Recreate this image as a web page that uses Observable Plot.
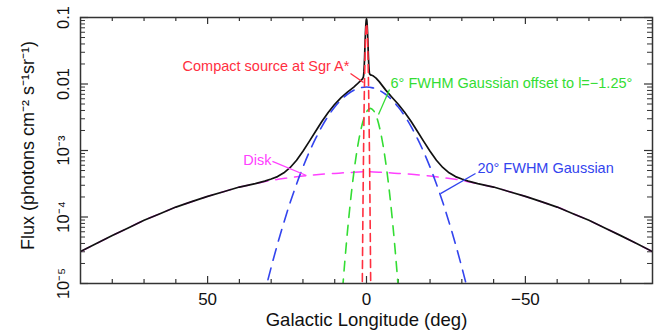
<!DOCTYPE html>
<html><head><meta charset="utf-8">
<script src="https://cdn.jsdelivr.net/npm/d3@7"></script>
<script src="https://cdn.jsdelivr.net/npm/@observablehq/plot@0.6"></script>
<style>body{margin:0;background:#fff}#chart{width:660px;height:331px}</style>
</head><body><div id="chart"></div>
<script>
// Total model (black)
const totalLon = [90,85,80,75,70,65,60,55,50,45,40,35,32,30,28,26,24,22,20,18,16,14,12,10,8,6,4,3,2,1.5,1.2,1.0,0.9,0.8,0.7,0.6,0.5,0.4,0.3,0.2,0.1,0,-0.1,-0.2,-0.3,-0.4,-0.5,-0.6,-0.7,-0.8,-0.9,-1.0,-1.2,-1.5,-2,-3,-4,-6,-8,-10,-12,-14,-16,-18,-20,-22,-24,-26,-28,-30,-32,-35,-40,-45,-50,-55,-60,-65,-70,-75,-80,-85,-90];
const totalFlux = [3.02e-5,3.98e-5,5.25e-5,6.84e-5,8.91e-5,1.12e-4,1.41e-4,1.70e-4,2.04e-4,2.40e-4,2.82e-4,3.18e-4,3.46e-4,3.73e-4,4.05e-4,4.62e-4,5.56e-4,7.15e-4,9.74e-4,1.373e-3,1.952e-3,2.75e-3,3.77e-3,4.95e-3,6.23e-3,7.54e-3,8.98e-3,9.92e-3,1.105e-2,1.167e-2,1.207e-2,1.273e-2,1.361e-2,1.546e-2,1.904e-2,2.532e-2,3.501e-2,4.832e-2,6.391e-2,7.90e-2,9.01e-2,9.43e-2,9.02e-2,7.93e-2,6.437e-2,4.892e-2,3.577e-2,2.621e-2,2.008e-2,1.663e-2,1.492e-2,1.416e-2,1.373e-2,1.362e-2,1.334e-2,1.228e-2,1.085e-2,8.16e-3,6.33e-3,4.96e-3,3.77e-3,2.75e-3,1.952e-3,1.373e-3,9.74e-4,7.15e-4,5.56e-4,4.62e-4,4.05e-4,3.73e-4,3.46e-4,3.18e-4,2.82e-4,2.40e-4,2.04e-4,1.70e-4,1.41e-4,1.12e-4,8.91e-5,6.84e-5,5.25e-5,3.98e-5,3.02e-5];
// Disk (magenta)
const diskLon = [90,85,80,75,70,65,60,55,50,45,40,35,30,25,20,15,10,5,0,-5,-10,-15,-20,-25,-30,-35,-40,-45,-50,-55,-60,-65,-70,-75,-80,-85,-90];
const diskFlux = [3.02e-5,3.98e-5,5.25e-5,6.84e-5,8.91e-5,1.12e-4,1.41e-4,1.70e-4,2.04e-4,2.40e-4,2.82e-4,3.16e-4,3.55e-4,3.85e-4,4.12e-4,4.37e-4,4.52e-4,4.68e-4,4.79e-4,4.68e-4,4.52e-4,4.37e-4,4.12e-4,3.85e-4,3.55e-4,3.16e-4,2.82e-4,2.40e-4,2.04e-4,1.70e-4,1.41e-4,1.12e-4,8.91e-5,6.84e-5,5.25e-5,3.98e-5,3.02e-5];
// 20 deg FWHM Gaussian (blue)
const wideLon = [34,32,30,28,26,24,22,20,18,16,14,12,10,8,6,4,2,0,-2,-4,-6,-8,-10,-12,-14,-16,-18,-20,-22,-24,-26,-28,-30,-32,-34];
const wideFlux = [2.97e-6,7.42e-6,1.75e-5,3.92e-5,8.28e-5,1.66e-4,3.14e-4,5.62e-4,9.51e-4,1.52e-3,2.31e-3,3.32e-3,4.50e-3,5.77e-3,7.01e-3,8.05e-3,8.75e-3,9.00e-3,8.75e-3,8.05e-3,7.01e-3,5.77e-3,4.50e-3,3.32e-3,2.31e-3,1.52e-3,9.51e-4,5.62e-4,3.14e-4,1.66e-4,8.28e-5,3.92e-5,1.75e-5,7.42e-6,2.97e-6];
// 6 deg FWHM Gaussian offset to l=-1.25 (green)
const offsetLon = [8.75,7.75,6.75,5.75,4.75,3.75,2.75,1.75,0.75,-0.25,-1.25,-2.25,-3.25,-4.25,-5.25,-6.25,-7.25,-8.25,-9.25,-10.25,-11.25];
const offsetFlux = [1.27e-6,5.93e-6,2.36e-5,8.00e-5,2.30e-4,5.63e-4,1.17e-3,2.07e-3,3.11e-3,3.96e-3,4.30e-3,3.96e-3,3.11e-3,2.07e-3,1.17e-3,5.63e-4,2.30e-4,8.00e-5,2.36e-5,5.93e-6,1.27e-6];
// Compact source at Sgr A* (red)
const compactLon = [1.5,1.4,1.3,1.2,1.1,1.0,0.9,0.8,0.7,0.6,0.5,0.4,0.3,0.2,0.1,0,-0.1,-0.2,-0.3,-0.4,-0.5,-0.6,-0.7,-0.8,-0.9,-1.0,-1.1,-1.2,-1.3,-1.4,-1.5];
const compactFlux = [7.2e-7,3.22e-6,1.30e-5,4.73e-5,1.55e-4,4.60e-4,1.23e-3,2.96e-3,6.43e-3,1.26e-2,2.22e-2,3.54e-2,5.09e-2,6.59e-2,7.69e-2,8.10e-2,7.69e-2,6.59e-2,5.09e-2,3.54e-2,2.22e-2,1.26e-2,6.43e-3,2.96e-3,1.23e-3,4.60e-4,1.55e-4,4.73e-5,1.30e-5,3.22e-6,7.2e-7];

const xTickValues = [50, 0, -50];
const xMinorTicks = [80,70,60,40,30,20,10,-10,-20,-30,-40,-60,-70,-80];
const yTickValues = [0.1, 0.01, 1e-3, 1e-4, 1e-5];
const yTickLabels = ["0.1", "0.01", "10⁻³", "10⁻⁴", "10⁻⁵"];

const zip = (xs, ys) => xs.map((x, i) => ({lon: x, flux: ys[i]}));
const total = zip(totalLon, totalFlux);
const disk = zip(diskLon, diskFlux);
const wide = zip(wideLon, wideFlux);
const offset = zip(offsetLon, offsetFlux);
const compact = zip(compactLon, compactFlux);
const yMinor = [];
for (const dec of [1e-5, 1e-4, 1e-3, 1e-2]) for (let k = 2; k <= 9; k++) yMinor.push(dec * k);

const FONT = "Liberation Sans, Arial, Helvetica, sans-serif";
const RED = "#ff2f3f", GREEN = "#33dd33", BLUE = "#3344ee", MAGENTA = "#ff40ff";
const FH = 266, FW = 572;

const chart = Plot.plot({
  width: 660, height: 331,
  marginLeft: 80, marginRight: 8, marginTop: 17, marginBottom: 48,
  style: {fontFamily: FONT, background: "#fff"},
  x: {domain: [90, -90]},
  y: {type: "log", domain: [1e-5, 0.1]},
  marks: [
    Plot.axisX({ticks: xTickValues, tickSize: 0, tickPadding: 9, fontSize: 17, fill: "#111",
      tickFormat: d => d < 0 ? "\u2212" + (-d) : String(d), label: null}),
    Plot.axisY({ticks: yTickValues, tickSize: 0, tickRotate: -90, tickPadding: 12, fontSize: 16.5, fill: "#111",
      tickFormat: d => yTickLabels[yTickValues.indexOf(d)], label: null}),
    Plot.text(["Galactic Longitude (deg)"], {frameAnchor: "bottom", textAnchor: "middle", dy: 37, fontSize: 18.5, fill: "#111", lineAnchor: "middle"}),
    Plot.text(["Flux (photons cm\u207B\u00B2 s\u207B\u00B9sr\u207B\u00B9)"], {frameAnchor: "left", textAnchor: "middle", dx: -52, dy: -5, rotate: -90, fontSize: 18, fill: "#111", lineAnchor: "middle"}),
    // inward ticks
    Plot.ruleX(xTickValues, {x: d => d, insetTop: FH - 7, stroke: "#333", strokeWidth: 1.2}),
    Plot.ruleX(xMinorTicks, {x: d => d, insetTop: FH - 4, stroke: "#333", strokeWidth: 1.2}),
    Plot.ruleX(xTickValues, {x: d => d, insetBottom: FH - 7, stroke: "#333", strokeWidth: 1.2}),
    Plot.ruleX(xMinorTicks, {x: d => d, insetBottom: FH - 4, stroke: "#333", strokeWidth: 1.2}),
    Plot.ruleY(yTickValues, {y: d => d, insetRight: FW - 8, stroke: "#333", strokeWidth: 1.2}),
    Plot.ruleY(yMinor, {y: d => d, insetRight: FW - 5, stroke: "#333", strokeWidth: 1}),
    Plot.ruleY(yTickValues, {y: d => d, insetLeft: FW - 8, stroke: "#333", strokeWidth: 1.2}),
    Plot.ruleY(yMinor, {y: d => d, insetLeft: FW - 5, stroke: "#333", strokeWidth: 1}),
    // curves
    Plot.line(disk, {x: "lon", y: "flux", stroke: MAGENTA, strokeWidth: 1.5, strokeDasharray: "11,8", curve: "catmull-rom", clip: true}),
    Plot.line(total, {x: "lon", y: "flux", stroke: "#111", strokeWidth: 1.7, clip: true}),
    Plot.line(wide, {x: "lon", y: "flux", stroke: BLUE, strokeWidth: 1.6, strokeDasharray: "12,8", curve: "catmull-rom", clip: true}),
    Plot.line(offset, {x: "lon", y: "flux", stroke: GREEN, strokeWidth: 1.6, strokeDasharray: "10,8", curve: "catmull-rom", clip: true}),
    Plot.line(compact, {x: "lon", y: "flux", stroke: RED, strokeWidth: 1.6, strokeDasharray: "8,5", clip: true}),
    // annotations
    Plot.link([0], {x1: 5.03, y1: 0.01439, x2: 0.94, y2: 0.01054, stroke: RED, strokeWidth: 1.3}),
    Plot.text(["Compact source at Sgr A*"], {x: 5.4, y: 0.0186, textAnchor: "end", fill: RED, fontSize: 14.5}),
    Plot.link([0], {x1: -7.24, y1: 8.26e-3, x2: -3.78, y2: 3.48e-3, stroke: GREEN, strokeWidth: 1.3}),
    Plot.text(["6° FWHM Gaussian offset to l=\u22121.25°"], {x: -7.55, y: 0.0103, textAnchor: "start", fill: GREEN, fontSize: 14.5}),
    Plot.link([0], {x1: 29.6, y1: 6.84e-4, x2: 18.9, y2: 4.21e-4, stroke: MAGENTA, strokeWidth: 1.3}),
    Plot.text(["Disk"], {x: 29.9, y: 7.08e-4, textAnchor: "end", fill: MAGENTA, fontSize: 14.5}),
    Plot.link([0], {x1: -34.3, y1: 4.51e-4, x2: -23.3, y2: 2.25e-4, stroke: BLUE, strokeWidth: 1.3}),
    Plot.text(["20° FWHM Gaussian"], {x: -34.9, y: 5.46e-4, textAnchor: "start", fill: BLUE, fontSize: 14.5}),
    Plot.frame({stroke: "#333", strokeWidth: 1.5})
  ]
});
document.getElementById("chart").appendChild(chart);
</script>
</body></html>
